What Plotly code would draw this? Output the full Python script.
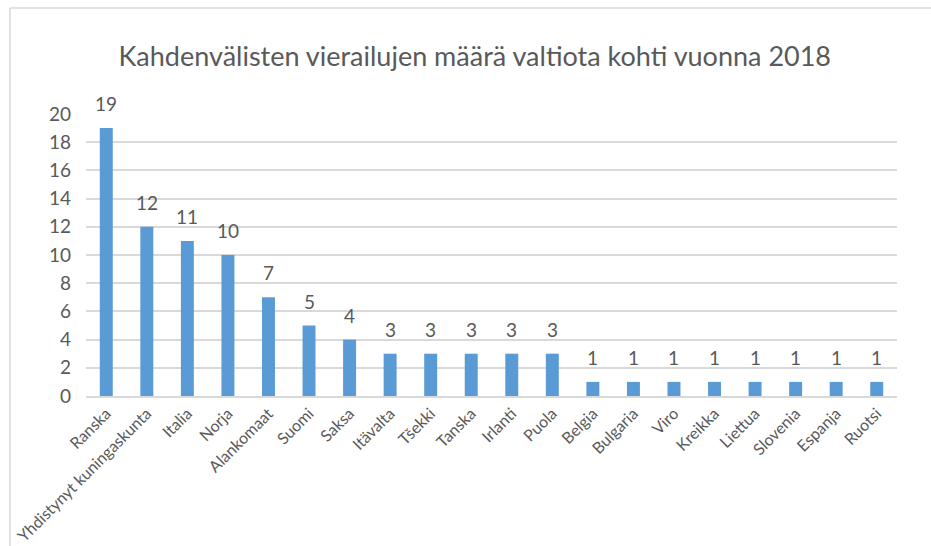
import plotly.graph_objects as go

countries = ["Ranska", "Yhdistynyt kuningaskunta", "Italia", "Norja", "Alankomaat",
             "Suomi", "Saksa", "Itävalta", "Tšekki", "Tanska", "Irlanti", "Puola",
             "Belgia", "Bulgaria", "Viro", "Kreikka", "Liettua", "Slovenia",
             "Espanja", "Ruotsi"]
visits = [19, 12, 11, 10, 7, 5, 4, 3, 3, 3, 3, 3, 1, 1, 1, 1, 1, 1, 1, 1]
y_ticks = [0, 2, 4, 6, 8, 10, 12, 14, 16, 18, 20]

FONT = "Lato, 'Open Sans', sans-serif"
GREY = "#595959"

fig = go.Figure(go.Bar(
    x=countries, y=visits,
    marker=dict(color="#5b9bd5", line=dict(width=0)),
    cliponaxis=False,
))

annotations = [
    dict(x=c, y=v, xref="x", yref="y", text=str(v), showarrow=False,
         yanchor="bottom", yshift=11, font=dict(size=19, color=GREY, family=FONT))
    for c, v in zip(countries, visits)
]

fig.update_layout(
    width=931, height=546,
    margin=dict(l=86, r=34, t=114, b=150, autoexpand=False),
    paper_bgcolor="white", plot_bgcolor="white",
    bargap=0.68,
    showlegend=False,
    font=dict(family=FONT, color=GREY),
    title=dict(text="Kahdenvälisten vierailujen määrä valtiota kohti vuonna 2018",
               x=0.51, xanchor="center", y=0.897, yanchor="middle",
               font=dict(size=27, color=GREY, family=FONT)),
    xaxis=dict(tickangle=-45, tickfont=dict(size=16, color=GREY),
               showgrid=False, showline=True, linecolor="#d9d9d9", linewidth=2,
               ticks=""),
    yaxis=dict(range=[0, 20], tickvals=y_ticks, tickfont=dict(size=19, color=GREY),
               showgrid=True, gridcolor="#d9d9d9", gridwidth=1.5,
               zeroline=False, showline=False, ticks="", ticklabelstandoff=14),
    annotations=annotations,
    shapes=[
        dict(type="line", xref="paper", yref="paper", x0=-0.0938, x1=1.2,
             y0=1.376, y1=1.376, line=dict(color="#d9d9d9", width=1.5)),
        dict(type="line", xref="paper", yref="paper", x0=-0.0938, x1=-0.0938,
             y0=1.376, y1=-1.0, line=dict(color="#d9d9d9", width=1.5)),
    ],
)

fig.write_html("out.html", config={"displayModeBar": False},
               post_script="document.body.style.margin='0';document.body.style.padding='0';")
